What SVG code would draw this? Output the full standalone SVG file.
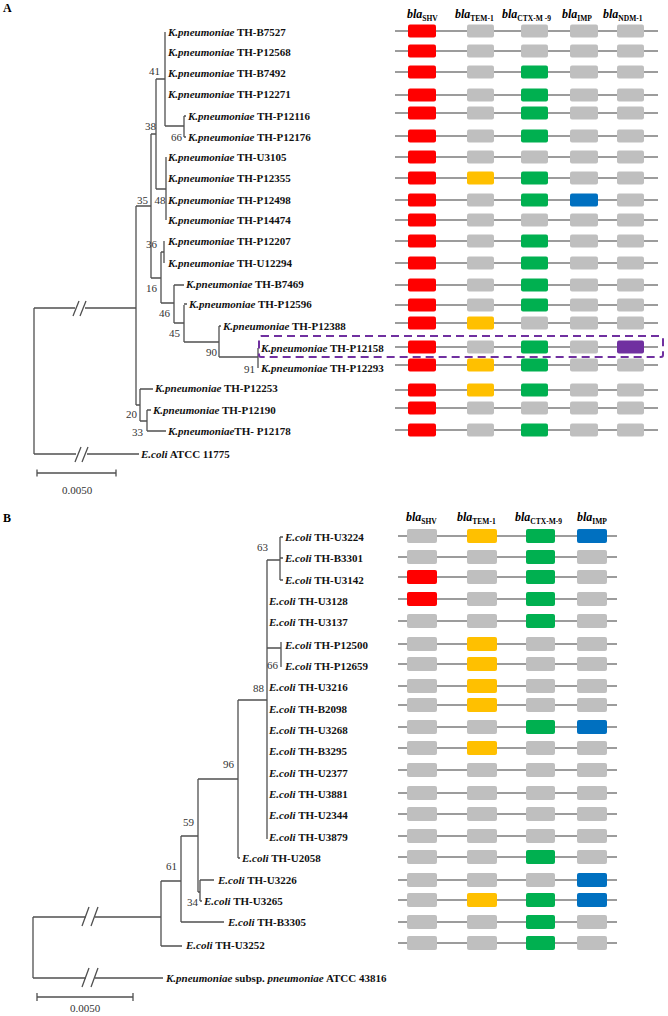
<svg xmlns="http://www.w3.org/2000/svg" width="668" height="1016" viewBox="0 0 668 1016">
<style>
.t{font-family:"Liberation Serif",serif;font-size:11px;font-weight:bold;fill:#111}
.i{font-style:italic}
.bs{font-family:"Liberation Serif",serif;font-size:11px;fill:#333;text-anchor:end}
.pl{font-family:"Liberation Serif",serif;font-size:12px;font-weight:bold;fill:#000}
.hd{font-family:"Liberation Serif",serif;font-size:12px;font-weight:bold;font-style:italic;fill:#000}
.sb{font-size:7.5px;font-style:normal}
.sc{font-family:"Liberation Serif",serif;font-size:11px;fill:#333;text-anchor:middle}
.tl{stroke:#505050;stroke-width:1.3;fill:none}
.gl{stroke:#3a3a3a;stroke-width:1.2}
rect{rx:2px}
.r{fill:#FF0000}.g{fill:#BFBFBF}.G{fill:#00B050}.y{fill:#FFC000}.b{fill:#0070C0}.p{fill:#7030A0}
.dash{fill:none;stroke:#7030A0;stroke-width:2;stroke-dasharray:8 5}
</style>
<text class="pl" x="3" y="12">A</text>
<text class="pl" x="3" y="522">B</text>
<g id="headerA">
<text class="hd" x="407" y="18">bla<tspan class="sb" dy="3">SHV</tspan></text>
<text class="hd" x="455" y="18">bla<tspan class="sb" dy="3">TEM-1</tspan></text>
<text class="hd" x="502" y="18">bla<tspan class="sb" dy="3">CTX-M -9</tspan></text>
<text class="hd" x="562" y="18">bla<tspan class="sb" dy="3">IMP</tspan></text>
<text class="hd" x="603" y="18">bla<tspan class="sb" dy="3">NDM-1</tspan></text>
</g>
<g id="headerB">
<text class="hd" x="406" y="521">bla<tspan class="sb" dy="3">SHV</tspan></text>
<text class="hd" x="457" y="521">bla<tspan class="sb" dy="3">TEM-1</tspan></text>
<text class="hd" x="515" y="521">bla<tspan class="sb" dy="3">CTX-M-9</tspan></text>
<text class="hd" x="577" y="521">bla<tspan class="sb" dy="3">IMP</tspan></text>
</g>
<g id="connectors">
<path class="tl" d="M165,32V126M156,79H165M165,126H184M184,116V137M184,116H186M184,137H186M156,79V189M156,189H166M166,157V220M151,134H156M151,134V278M136,206H151M151,278H161M161,252V303M161,252H164M164,241V263M161,303H174M174,285V323M174,285H184M174,323H184M184,305V342M184,304H187M184,342H219M219,326V357M219,326H221M219,357H258M258,348V368M136,206V405M136,405H140M140,389V421M140,389H153M140,421H147M147,410V431M147,410H151M147,431H166M34,308V454M34,308H75M85,308H136M34,454H76M87,454H139"/>
<path class="tl" d="M73,316L79,301M80,316L86,301M75,462L81,447M82,462L88,447"/>
<path class="tl" d="M37,473H116M37,469.5V476.5M116,469.5V476.5"/>
<path class="tl" d="M267,560H280M280,537V580M280,537H283M280,558H283M280,580H283M267,648H281M281,642V667M267,560V839M238,700H267M238,700V858M238,858H240M198,779H238M198,779V892M198,892H200M200,880V901M200,880H214M200,901H202M181,836H198M181,836V922M181,922H224M161,881H181M161,881V946M161,946H182M33,917H86M95,917H161M33,917V978M33,978H86M95,978H163"/>
<path class="tl" d="M82,926L89,907M91,926L98,907M82,987L89,968M91,987L98,968"/>
<path class="tl" d="M37,997H133M37,993V1001M133,993V1001"/>
<rect class="dash" x="259" y="336" width="404" height="21" rx="0"/>
</g>
<g id="bootA">
<text class="bs" x="160" y="75">41</text>
<text class="bs" x="182" y="141">66</text>
<text class="bs" x="156" y="130">38</text>
<text class="bs" x="148" y="204">35</text>
<text class="bs" x="165.5" y="204">48</text>
<text class="bs" x="157" y="248">36</text>
<text class="bs" x="157" y="292">16</text>
<text class="bs" x="170" y="317">46</text>
<text class="bs" x="180" y="337">45</text>
<text class="bs" x="217" y="356">90</text>
<text class="bs" x="255" y="373">91</text>
<text class="bs" x="137" y="418">20</text>
<text class="bs" x="143" y="436">33</text>
</g>
<g id="bootB">
<text class="bs" x="268" y="551">63</text>
<text class="bs" x="278" y="669">66</text>
<text class="bs" x="264" y="692">88</text>
<text class="bs" x="234" y="768">96</text>
<text class="bs" x="194" y="826">59</text>
<text class="bs" x="177" y="870">61</text>
<text class="bs" x="198" y="906">34</text>
</g>
<text class="sc" x="77" y="494">0.0050</text>
<text class="sc" x="85" y="1012">0.0050</text>
<g id="a01"><text class="t" x="168" y="36"><tspan class="i">K.pneumoniae</tspan> TH-B7527</text><line class="gl" x1="395" y1="31" x2="658" y2="31"/><rect class="r" x="408" y="24.5" width="28" height="13"/><rect class="g" x="467" y="24.5" width="27" height="13"/><rect class="g" x="521" y="24.5" width="27" height="13"/><rect class="g" x="570" y="24.5" width="28" height="13"/><rect class="g" x="617" y="24.5" width="27" height="13"/></g>
<g id="a02"><text class="t" x="168" y="56"><tspan class="i">K.pneumoniae</tspan> TH-P12568</text><line class="gl" x1="395" y1="51" x2="658" y2="51"/><rect class="r" x="408" y="44.5" width="28" height="13"/><rect class="g" x="467" y="44.5" width="27" height="13"/><rect class="g" x="521" y="44.5" width="27" height="13"/><rect class="g" x="570" y="44.5" width="28" height="13"/><rect class="g" x="617" y="44.5" width="27" height="13"/></g>
<g id="a03"><text class="t" x="168" y="77"><tspan class="i">K.pneumoniae</tspan> TH-B7492</text><line class="gl" x1="395" y1="72" x2="658" y2="72"/><rect class="r" x="408" y="65.5" width="28" height="13"/><rect class="g" x="467" y="65.5" width="27" height="13"/><rect class="G" x="521" y="65.5" width="27" height="13"/><rect class="g" x="570" y="65.5" width="28" height="13"/><rect class="g" x="617" y="65.5" width="27" height="13"/></g>
<g id="a04"><text class="t" x="168" y="98"><tspan class="i">K.pneumoniae</tspan> TH-P12271</text><line class="gl" x1="395" y1="95" x2="658" y2="95"/><rect class="r" x="408" y="88.5" width="28" height="13"/><rect class="g" x="467" y="88.5" width="27" height="13"/><rect class="G" x="521" y="88.5" width="27" height="13"/><rect class="g" x="570" y="88.5" width="28" height="13"/><rect class="g" x="617" y="88.5" width="27" height="13"/></g>
<g id="a05"><text class="t" x="188" y="120"><tspan class="i">K.pneumoniae</tspan> TH-P12116</text><line class="gl" x1="395" y1="113" x2="658" y2="113"/><rect class="r" x="408" y="106.5" width="28" height="13"/><rect class="g" x="467" y="106.5" width="27" height="13"/><rect class="G" x="521" y="106.5" width="27" height="13"/><rect class="g" x="570" y="106.5" width="28" height="13"/><rect class="g" x="617" y="106.5" width="27" height="13"/></g>
<g id="a06"><text class="t" x="188" y="141"><tspan class="i">K.pneumoniae</tspan> TH-P12176</text><line class="gl" x1="395" y1="136" x2="658" y2="136"/><rect class="r" x="408" y="129.5" width="28" height="13"/><rect class="g" x="467" y="129.5" width="27" height="13"/><rect class="G" x="521" y="129.5" width="27" height="13"/><rect class="g" x="570" y="129.5" width="28" height="13"/><rect class="g" x="617" y="129.5" width="27" height="13"/></g>
<g id="a07"><text class="t" x="168" y="161"><tspan class="i">K.pneumoniae</tspan> TH-U3105</text><line class="gl" x1="395" y1="157" x2="658" y2="157"/><rect class="r" x="408" y="150.5" width="28" height="13"/><rect class="g" x="467" y="150.5" width="27" height="13"/><rect class="g" x="521" y="150.5" width="27" height="13"/><rect class="g" x="570" y="150.5" width="28" height="13"/><rect class="g" x="617" y="150.5" width="27" height="13"/></g>
<g id="a08"><text class="t" x="168" y="182"><tspan class="i">K.pneumoniae</tspan> TH-P12355</text><line class="gl" x1="395" y1="178" x2="658" y2="178"/><rect class="r" x="408" y="171.5" width="28" height="13"/><rect class="y" x="467" y="171.5" width="27" height="13"/><rect class="G" x="521" y="171.5" width="27" height="13"/><rect class="g" x="570" y="171.5" width="28" height="13"/><rect class="g" x="617" y="171.5" width="27" height="13"/></g>
<g id="a09"><text class="t" x="168" y="204"><tspan class="i">K.pneumoniae</tspan> TH-P12498</text><line class="gl" x1="395" y1="200" x2="658" y2="200"/><rect class="r" x="408" y="193.5" width="28" height="13"/><rect class="g" x="467" y="193.5" width="27" height="13"/><rect class="G" x="521" y="193.5" width="27" height="13"/><rect class="b" x="570" y="193.5" width="28" height="13"/><rect class="g" x="617" y="193.5" width="27" height="13"/></g>
<g id="a10"><text class="t" x="168" y="224"><tspan class="i">K.pneumoniae</tspan> TH-P14474</text><line class="gl" x1="395" y1="220" x2="658" y2="220"/><rect class="r" x="408" y="213.5" width="28" height="13"/><rect class="g" x="467" y="213.5" width="27" height="13"/><rect class="g" x="521" y="213.5" width="27" height="13"/><rect class="g" x="570" y="213.5" width="28" height="13"/><rect class="g" x="617" y="213.5" width="27" height="13"/></g>
<g id="a11"><text class="t" x="168" y="245"><tspan class="i">K.pneumoniae</tspan> TH-P12207</text><line class="gl" x1="395" y1="241" x2="658" y2="241"/><rect class="r" x="408" y="234.5" width="28" height="13"/><rect class="g" x="467" y="234.5" width="27" height="13"/><rect class="G" x="521" y="234.5" width="27" height="13"/><rect class="g" x="570" y="234.5" width="28" height="13"/><rect class="g" x="617" y="234.5" width="27" height="13"/></g>
<g id="a12"><text class="t" x="168" y="267"><tspan class="i">K.pneumoniae</tspan> TH-U12294</text><line class="gl" x1="395" y1="263" x2="658" y2="263"/><rect class="r" x="408" y="256.5" width="28" height="13"/><rect class="g" x="467" y="256.5" width="27" height="13"/><rect class="G" x="521" y="256.5" width="27" height="13"/><rect class="g" x="570" y="256.5" width="28" height="13"/><rect class="g" x="617" y="256.5" width="27" height="13"/></g>
<g id="a13"><text class="t" x="186" y="288"><tspan class="i">K.pneumoniae</tspan> TH-B7469</text><line class="gl" x1="395" y1="285" x2="658" y2="285"/><rect class="r" x="408" y="278.5" width="28" height="13"/><rect class="g" x="467" y="278.5" width="27" height="13"/><rect class="G" x="521" y="278.5" width="27" height="13"/><rect class="g" x="570" y="278.5" width="28" height="13"/><rect class="g" x="617" y="278.5" width="27" height="13"/></g>
<g id="a14"><text class="t" x="189" y="308"><tspan class="i">K.pneumoniae</tspan> TH-P12596</text><line class="gl" x1="395" y1="305" x2="658" y2="305"/><rect class="r" x="408" y="298.5" width="28" height="13"/><rect class="g" x="467" y="298.5" width="27" height="13"/><rect class="G" x="521" y="298.5" width="27" height="13"/><rect class="g" x="570" y="298.5" width="28" height="13"/><rect class="g" x="617" y="298.5" width="27" height="13"/></g>
<g id="a15"><text class="t" x="223" y="330"><tspan class="i">K.pneumoniae</tspan> TH-P12388</text><line class="gl" x1="395" y1="323" x2="658" y2="323"/><rect class="r" x="408" y="316.5" width="28" height="13"/><rect class="y" x="467" y="316.5" width="27" height="13"/><rect class="g" x="521" y="316.5" width="27" height="13"/><rect class="g" x="570" y="316.5" width="28" height="13"/><rect class="g" x="617" y="316.5" width="27" height="13"/></g>
<g id="a16"><text class="t" x="261" y="352"><tspan class="i">K.pneumoniae</tspan> TH-P12158</text><line class="gl" x1="395" y1="347" x2="658" y2="347"/><rect class="r" x="408" y="340.5" width="28" height="13"/><rect class="g" x="467" y="340.5" width="27" height="13"/><rect class="G" x="521" y="340.5" width="27" height="13"/><rect class="g" x="570" y="340.5" width="28" height="13"/><rect class="p" x="617" y="340.5" width="27" height="13"/></g>
<g id="a17"><text class="t" x="261" y="372"><tspan class="i">K.pneumoniae</tspan> TH-P12293</text><line class="gl" x1="395" y1="365" x2="658" y2="365"/><rect class="r" x="408" y="358.5" width="28" height="13"/><rect class="y" x="467" y="358.5" width="27" height="13"/><rect class="G" x="521" y="358.5" width="27" height="13"/><rect class="g" x="570" y="358.5" width="28" height="13"/><rect class="g" x="617" y="358.5" width="27" height="13"/></g>
<g id="a18"><text class="t" x="155" y="392"><tspan class="i">K.pneumoniae</tspan> TH-P12253</text><line class="gl" x1="395" y1="390" x2="658" y2="390"/><rect class="r" x="408" y="383.5" width="28" height="13"/><rect class="y" x="467" y="383.5" width="27" height="13"/><rect class="G" x="521" y="383.5" width="27" height="13"/><rect class="g" x="570" y="383.5" width="28" height="13"/><rect class="g" x="617" y="383.5" width="27" height="13"/></g>
<g id="a19"><text class="t" x="153" y="414"><tspan class="i">K.pneumoniae</tspan> TH-P12190</text><line class="gl" x1="395" y1="408" x2="658" y2="408"/><rect class="r" x="408" y="401.5" width="28" height="13"/><rect class="g" x="467" y="401.5" width="27" height="13"/><rect class="g" x="521" y="401.5" width="27" height="13"/><rect class="g" x="570" y="401.5" width="28" height="13"/><rect class="g" x="617" y="401.5" width="27" height="13"/></g>
<g id="a20"><text class="t" x="168" y="435"><tspan class="i">K.pneumoniae</tspan>TH- P12178</text><line class="gl" x1="395" y1="430" x2="658" y2="430"/><rect class="r" x="408" y="423.5" width="28" height="13"/><rect class="g" x="467" y="423.5" width="27" height="13"/><rect class="G" x="521" y="423.5" width="27" height="13"/><rect class="g" x="570" y="423.5" width="28" height="13"/><rect class="g" x="617" y="423.5" width="27" height="13"/></g>
<g id="a21"><text class="t" x="141" y="458"><tspan class="i">E.coli</tspan> ATCC 11775</text></g>
<g id="b01"><text class="t" x="285" y="541"><tspan class="i">E.coli</tspan> TH-U3224</text><line class="gl" x1="398" y1="536" x2="617" y2="536"/><rect class="g" x="407" y="529" width="30" height="14"/><rect class="y" x="467" y="529" width="30" height="14"/><rect class="G" x="526" y="529" width="29" height="14"/><rect class="b" x="577" y="529" width="30" height="14"/></g>
<g id="b02"><text class="t" x="285" y="562"><tspan class="i">E.coli</tspan> TH-B3301</text><line class="gl" x1="398" y1="557" x2="617" y2="557"/><rect class="g" x="407" y="550" width="30" height="14"/><rect class="g" x="467" y="550" width="30" height="14"/><rect class="G" x="526" y="550" width="29" height="14"/><rect class="g" x="577" y="550" width="30" height="14"/></g>
<g id="b03"><text class="t" x="285" y="584"><tspan class="i">E.coli</tspan> TH-U3142</text><line class="gl" x1="398" y1="577" x2="617" y2="577"/><rect class="r" x="407" y="570" width="30" height="14"/><rect class="g" x="467" y="570" width="30" height="14"/><rect class="G" x="526" y="570" width="29" height="14"/><rect class="g" x="577" y="570" width="30" height="14"/></g>
<g id="b04"><text class="t" x="269" y="605"><tspan class="i">E.coli</tspan> TH-U3128</text><line class="gl" x1="398" y1="599" x2="617" y2="599"/><rect class="r" x="407" y="592" width="30" height="14"/><rect class="g" x="467" y="592" width="30" height="14"/><rect class="G" x="526" y="592" width="29" height="14"/><rect class="g" x="577" y="592" width="30" height="14"/></g>
<g id="b05"><text class="t" x="269" y="626"><tspan class="i">E.coli</tspan> TH-U3137</text><line class="gl" x1="398" y1="621" x2="617" y2="621"/><rect class="g" x="407" y="614" width="30" height="14"/><rect class="g" x="467" y="614" width="30" height="14"/><rect class="G" x="526" y="614" width="29" height="14"/><rect class="g" x="577" y="614" width="30" height="14"/></g>
<g id="b06"><text class="t" x="285" y="649"><tspan class="i">E.coli</tspan> TH-P12500</text><line class="gl" x1="398" y1="644" x2="617" y2="644"/><rect class="g" x="407" y="637" width="30" height="14"/><rect class="y" x="467" y="637" width="30" height="14"/><rect class="g" x="526" y="637" width="29" height="14"/><rect class="g" x="577" y="637" width="30" height="14"/></g>
<g id="b07"><text class="t" x="285" y="670"><tspan class="i">E.coli</tspan> TH-P12659</text><line class="gl" x1="398" y1="664" x2="617" y2="664"/><rect class="g" x="407" y="657" width="30" height="14"/><rect class="y" x="467" y="657" width="30" height="14"/><rect class="g" x="526" y="657" width="29" height="14"/><rect class="g" x="577" y="657" width="30" height="14"/></g>
<g id="b08"><text class="t" x="269" y="691"><tspan class="i">E.coli</tspan> TH-U3216</text><line class="gl" x1="398" y1="686" x2="617" y2="686"/><rect class="g" x="407" y="679" width="30" height="14"/><rect class="y" x="467" y="679" width="30" height="14"/><rect class="g" x="526" y="679" width="29" height="14"/><rect class="g" x="577" y="679" width="30" height="14"/></g>
<g id="b09"><text class="t" x="269" y="713"><tspan class="i">E.coli</tspan> TH-B2098</text><line class="gl" x1="398" y1="705" x2="617" y2="705"/><rect class="g" x="407" y="698" width="30" height="14"/><rect class="y" x="467" y="698" width="30" height="14"/><rect class="g" x="526" y="698" width="29" height="14"/><rect class="g" x="577" y="698" width="30" height="14"/></g>
<g id="b10"><text class="t" x="269" y="734"><tspan class="i">E.coli</tspan> TH-U3268</text><line class="gl" x1="398" y1="727" x2="617" y2="727"/><rect class="g" x="407" y="720" width="30" height="14"/><rect class="g" x="467" y="720" width="30" height="14"/><rect class="G" x="526" y="720" width="29" height="14"/><rect class="b" x="577" y="720" width="30" height="14"/></g>
<g id="b11"><text class="t" x="269" y="755"><tspan class="i">E.coli</tspan> TH-B3295</text><line class="gl" x1="398" y1="748" x2="617" y2="748"/><rect class="g" x="407" y="741" width="30" height="14"/><rect class="y" x="467" y="741" width="30" height="14"/><rect class="g" x="526" y="741" width="29" height="14"/><rect class="g" x="577" y="741" width="30" height="14"/></g>
<g id="b12"><text class="t" x="269" y="777"><tspan class="i">E.coli</tspan> TH-U2377</text><line class="gl" x1="398" y1="770" x2="617" y2="770"/><rect class="g" x="407" y="763" width="30" height="14"/><rect class="g" x="467" y="763" width="30" height="14"/><rect class="g" x="526" y="763" width="29" height="14"/><rect class="g" x="577" y="763" width="30" height="14"/></g>
<g id="b13"><text class="t" x="269" y="798"><tspan class="i">E.coli</tspan> TH-U3881</text><line class="gl" x1="398" y1="793" x2="617" y2="793"/><rect class="g" x="407" y="786" width="30" height="14"/><rect class="g" x="467" y="786" width="30" height="14"/><rect class="g" x="526" y="786" width="29" height="14"/><rect class="g" x="577" y="786" width="30" height="14"/></g>
<g id="b14"><text class="t" x="269" y="819"><tspan class="i">E.coli</tspan> TH-U2344</text><line class="gl" x1="398" y1="814" x2="617" y2="814"/><rect class="g" x="407" y="807" width="30" height="14"/><rect class="g" x="467" y="807" width="30" height="14"/><rect class="g" x="526" y="807" width="29" height="14"/><rect class="g" x="577" y="807" width="30" height="14"/></g>
<g id="b15"><text class="t" x="269" y="841"><tspan class="i">E.coli</tspan> TH-U3879</text><line class="gl" x1="398" y1="836" x2="617" y2="836"/><rect class="g" x="407" y="829" width="30" height="14"/><rect class="g" x="467" y="829" width="30" height="14"/><rect class="g" x="526" y="829" width="29" height="14"/><rect class="g" x="577" y="829" width="30" height="14"/></g>
<g id="b16"><text class="t" x="242" y="862"><tspan class="i">E.coli</tspan> TH-U2058</text><line class="gl" x1="398" y1="857" x2="617" y2="857"/><rect class="g" x="407" y="850" width="30" height="14"/><rect class="g" x="467" y="850" width="30" height="14"/><rect class="G" x="526" y="850" width="29" height="14"/><rect class="g" x="577" y="850" width="30" height="14"/></g>
<g id="b17"><text class="t" x="218" y="884"><tspan class="i">E.coli</tspan> TH-U3226</text><line class="gl" x1="398" y1="880" x2="617" y2="880"/><rect class="g" x="407" y="873" width="30" height="14"/><rect class="g" x="467" y="873" width="30" height="14"/><rect class="g" x="526" y="873" width="29" height="14"/><rect class="b" x="577" y="873" width="30" height="14"/></g>
<g id="b18"><text class="t" x="204" y="905"><tspan class="i">E.coli</tspan> TH-U3265</text><line class="gl" x1="398" y1="900" x2="617" y2="900"/><rect class="g" x="407" y="893" width="30" height="14"/><rect class="y" x="467" y="893" width="30" height="14"/><rect class="G" x="526" y="893" width="29" height="14"/><rect class="b" x="577" y="893" width="30" height="14"/></g>
<g id="b19"><text class="t" x="228" y="926"><tspan class="i">E.coli</tspan> TH-B3305</text><line class="gl" x1="398" y1="922" x2="617" y2="922"/><rect class="g" x="407" y="915" width="30" height="14"/><rect class="g" x="467" y="915" width="30" height="14"/><rect class="G" x="526" y="915" width="29" height="14"/><rect class="g" x="577" y="915" width="30" height="14"/></g>
<g id="b20"><text class="t" x="186" y="949"><tspan class="i">E.coli</tspan> TH-U3252</text><line class="gl" x1="398" y1="943" x2="617" y2="943"/><rect class="g" x="407" y="936" width="30" height="14"/><rect class="g" x="467" y="936" width="30" height="14"/><rect class="G" x="526" y="936" width="29" height="14"/><rect class="g" x="577" y="936" width="30" height="14"/></g>
<g id="b21"><text class="t" x="166" y="982"><tspan class="i">K.pneumoniae</tspan> subsp. <tspan class="i">pneumoniae</tspan> ATCC 43816</text></g>
</svg>
